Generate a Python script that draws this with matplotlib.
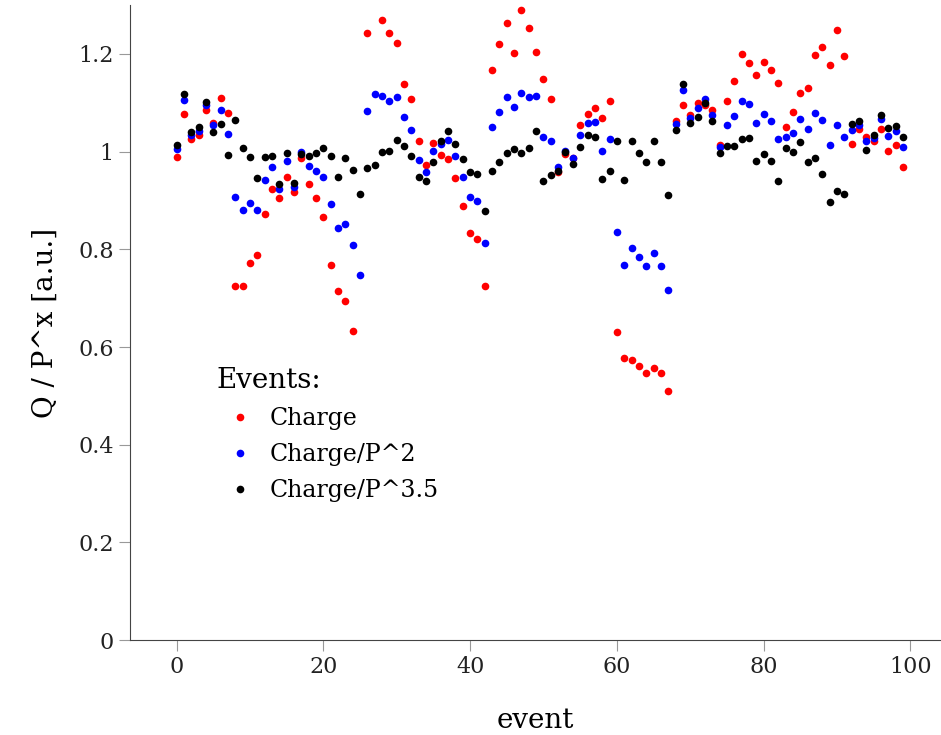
import matplotlib
matplotlib.use('Agg')
import matplotlib.pyplot as plt
import matplotlib.ticker as ticker
import numpy as np

plt.rcParams['font.family'] = 'DejaVu Serif'

# event numbers
event = np.arange(100)

# Q, Q/P^2 and Q/P^3.5 per event
# (events 25 and 27 of "Charge" lie above the plotted range)
charge = [0.989, 1.077, 1.027, 1.035, 1.086, 1.058, 1.110, 1.080, 0.725, 0.725,
          0.772, 0.789, 0.872, 0.924, 0.906, 0.949, 0.917, 0.987, 0.933, 0.905,
          0.866, 0.768, 0.714, 0.695, 0.633, 1.320, 1.244, 1.350, 1.270, 1.243,
          1.223, 1.139, 1.107, 1.022, 0.972, 1.017, 0.993, 0.986, 0.947, 0.889,
          0.834, 0.821, 0.725, 1.168, 1.221, 1.263, 1.202, 1.290, 1.254, 1.204,
          1.148, 1.108, 0.959, 0.995, 0.987, 1.055, 1.077, 1.089, 1.068, 1.103,
          0.631, 0.578, 0.574, 0.562, 0.547, 0.558, 0.547, 0.511, 1.062, 1.096,
          1.076, 1.100, 1.096, 1.085, 1.014, 1.103, 1.144, 1.201, 1.182, 1.158,
          1.183, 1.167, 1.141, 1.050, 1.081, 1.120, 1.130, 1.198, 1.214, 1.177,
          1.250, 1.196, 1.015, 1.047, 1.031, 1.022, 1.046, 1.001, 1.013, 0.969]

charge_p2 = [1.006, 1.106, 1.035, 1.043, 1.095, 1.054, 1.085, 1.036, 0.907, 0.880,
             0.895, 0.880, 0.942, 0.969, 0.924, 0.981, 0.928, 1.000, 0.971, 0.961,
             0.948, 0.893, 0.844, 0.853, 0.808, 0.748, 1.083, 1.119, 1.113, 1.104,
             1.111, 1.070, 1.045, 0.984, 0.958, 1.001, 1.015, 1.024, 0.991, 0.948,
             0.908, 0.900, 0.813, 1.050, 1.081, 1.111, 1.091, 1.121, 1.111, 1.115,
             1.031, 1.021, 0.968, 1.002, 0.987, 1.035, 1.058, 1.061, 1.001, 1.025,
             0.835, 0.768, 0.802, 0.784, 0.766, 0.792, 0.767, 0.716, 1.056, 1.126,
             1.069, 1.089, 1.107, 1.076, 1.010, 1.055, 1.073, 1.103, 1.097, 1.059,
             1.078, 1.063, 1.027, 1.030, 1.039, 1.067, 1.047, 1.080, 1.065, 1.014,
             1.055, 1.031, 1.044, 1.055, 1.021, 1.029, 1.067, 1.033, 1.042, 1.009]

charge_p35 = [1.013, 1.119, 1.041, 1.050, 1.102, 1.040, 1.057, 0.994, 1.065, 1.008,
              0.990, 0.946, 0.989, 0.992, 0.933, 0.998, 0.936, 0.995, 0.991, 0.997,
              1.007, 0.991, 0.949, 0.988, 0.962, 0.913, 0.966, 0.972, 0.999, 1.001,
              1.024, 1.011, 0.991, 0.949, 0.939, 0.979, 1.022, 1.043, 1.016, 0.986,
              0.959, 0.954, 0.879, 0.960, 0.978, 0.998, 1.005, 0.998, 1.007, 1.042,
              0.941, 0.952, 0.961, 1.000, 0.975, 1.010, 1.035, 1.031, 0.944, 0.961,
              1.022, 0.943, 1.022, 0.998, 0.978, 1.022, 0.978, 0.912, 1.044, 1.138,
              1.058, 1.070, 1.100, 1.063, 0.997, 1.012, 1.012, 1.026, 1.028, 0.980,
              0.995, 0.981, 0.939, 1.007, 1.000, 1.020, 0.979, 0.988, 0.954, 0.898,
              0.920, 0.914, 1.057, 1.062, 1.004, 1.035, 1.075, 1.048, 1.053, 1.031]

series = [(charge, 'red', 'Charge'),
          (charge_p2, 'blue', 'Charge/P^2'),
          (charge_p35, 'black', 'Charge/P^3.5')]

fig = plt.figure(figsize=(9.41, 7.35), dpi=100)
ax = fig.add_axes([0.138, 0.129, 0.862, 0.864])

for vals, col, lab in series:
    ax.plot(event, vals, 'o', color=col, markersize=5.5, markeredgewidth=0,
            label=lab)

ax.set_xlim(-6.4, 104.2)
ax.set_ylim(0, 1.3)
ax.set_xticks(range(0, 101, 20))
ax.set_yticks(np.arange(0, 1.21, 0.2))
ax.yaxis.set_major_formatter(ticker.FormatStrFormatter('%g'))

# only left and bottom spines
for side in ['top', 'right']:
    ax.spines[side].set_visible(False)
for side in ['left', 'bottom']:
    ax.spines[side].set_color('#444444')
ax.tick_params(axis='both', which='both', direction='out', length=8,
               color='#999999', labelsize=16, labelcolor='#222222')

ax.set_xlabel('event', fontsize=20, labelpad=21)
ax.set_ylabel('Q / P^x [a.u.]', fontsize=20, labelpad=14)

leg = ax.legend(title='Events:', loc='upper left', bbox_to_anchor=(0.081, 0.463),
                frameon=False, fontsize=17, title_fontsize=20,
                handletextpad=0.22, labelspacing=0.55)
leg._legend_box.align = 'left'

plt.savefig('out.png', dpi=100)
